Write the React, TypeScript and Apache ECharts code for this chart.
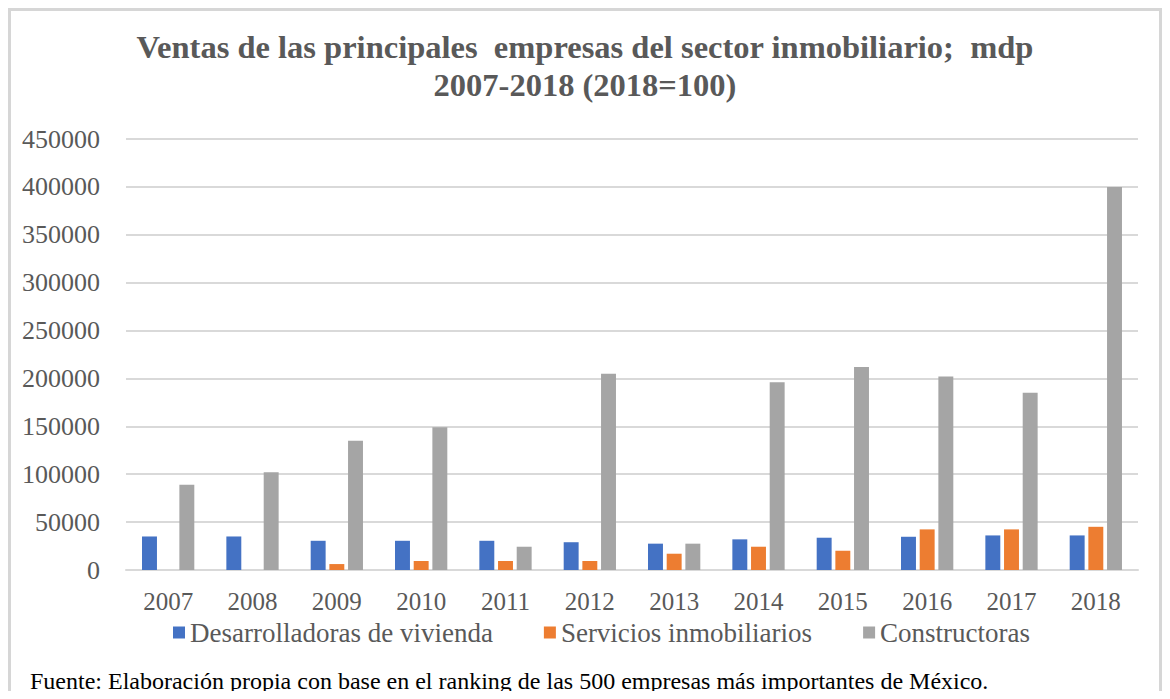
import React, { useEffect, useRef } from "react";
import * as echarts from "echarts";

const years = ["2007", "2008", "2009", "2010", "2011", "2012", "2013", "2014", "2015", "2016", "2017", "2018"];
const desarrolladoras = [35000, 35000, 30500, 30500, 30500, 29000, 27500, 32000, 33700, 34700, 36100, 36100];
const servicios = [0, 0, 6200, 9400, 9400, 9400, 17000, 24300, 20100, 42400, 42400, 45100];
const constructoras = [89000, 102000, 135000, 149000, 24300, 205000, 27500, 196000, 212000, 202000, 185000, 400000];

const titleText = "Ventas de las principales  empresas del sector inmobiliario;  mdp\n2007-2018 (2018=100)";
const footText = "Fuente: Elaboración propia con base en el ranking de las 500 empresas más importantes de México.";

const serif = "'Liberation Serif', 'Times New Roman', serif";

export default function App() {
  const ref = useRef<HTMLDivElement>(null);
  useEffect(() => {
    const chart = echarts.init(ref.current!, null, { renderer: "svg" });
    chart.setOption({
      animation: false,
      backgroundColor: "#fff",
      title: {
        text: titleText,
        left: "center",
        top: 23,
        textStyle: { fontFamily: serif, fontSize: 32.5, fontWeight: "bold", color: "#595959", lineHeight: 38 },
      },
      legend: {
        top: 614,
        left: 168,
        itemWidth: 12,
        itemHeight: 12,
        itemGap: 51,
        icon: "rect",
        textStyle: { fontFamily: serif, fontSize: 27, color: "#595959" },
        data: ["Desarrolladoras de vivienda", "Servicios inmobiliarios", "Constructoras"],
      },
      grid: { left: 126, right: 32, top: 139, bottom: 129 },
      xAxis: {
        type: "category",
        data: years,
        axisLine: { lineStyle: { color: "#d9d9d9", width: 2 } },
        axisTick: { show: false },
        axisLabel: { fontFamily: serif, fontSize: 25, color: "#595959", margin: 19 },
      },
      yAxis: {
        type: "value",
        min: 0,
        max: 450000,
        interval: 50000,
        axisLine: { show: false },
        axisTick: { show: false },
        splitLine: { lineStyle: { color: "#d9d9d9", width: 2 } },
        axisLabel: { fontFamily: serif, fontSize: 26, color: "#595959", margin: 26, formatter: (v: number) => String(v) },
      },
      series: [
        { name: "Desarrolladoras de vivienda", type: "bar", data: desarrolladoras, itemStyle: { color: "#4472C4" }, barGap: "25%", barCategoryGap: "38%" },
        { name: "Servicios inmobiliarios", type: "bar", data: servicios, itemStyle: { color: "#ED7D31" }, barGap: "25%", barCategoryGap: "38%" },
        { name: "Constructoras", type: "bar", data: constructoras, itemStyle: { color: "#A5A5A5" }, barGap: "25%", barCategoryGap: "38%" },
      ],
      graphic: [
        { type: "line", z: 100, silent: true, shape: { x1: 8, y1: 9.5, x2: 1162, y2: 9.5 }, style: { stroke: "#d6d6d6", lineWidth: 3 } },
        { type: "line", z: 100, silent: true, shape: { x1: 9.5, y1: 8, x2: 9.5, y2: 699 }, style: { stroke: "#d6d6d6", lineWidth: 3 } },
        { type: "line", z: 100, silent: true, shape: { x1: 1160.5, y1: 8, x2: 1160.5, y2: 699 }, style: { stroke: "#d6d6d6", lineWidth: 3 } },
        { type: "text", z: 100, left: 30, top: 669, style: { text: footText, fontFamily: serif, fontSize: 24, fill: "#000" } },
      ],
    });
    return () => chart.dispose();
  }, []);
  return (
    <div style={{ position: "relative", width: 1170, height: 699, margin: -8 }}>
      <div ref={ref} style={{ position: "absolute", left: 0, top: 0, width: 1170, height: 699 }} />
    </div>
  );
}
